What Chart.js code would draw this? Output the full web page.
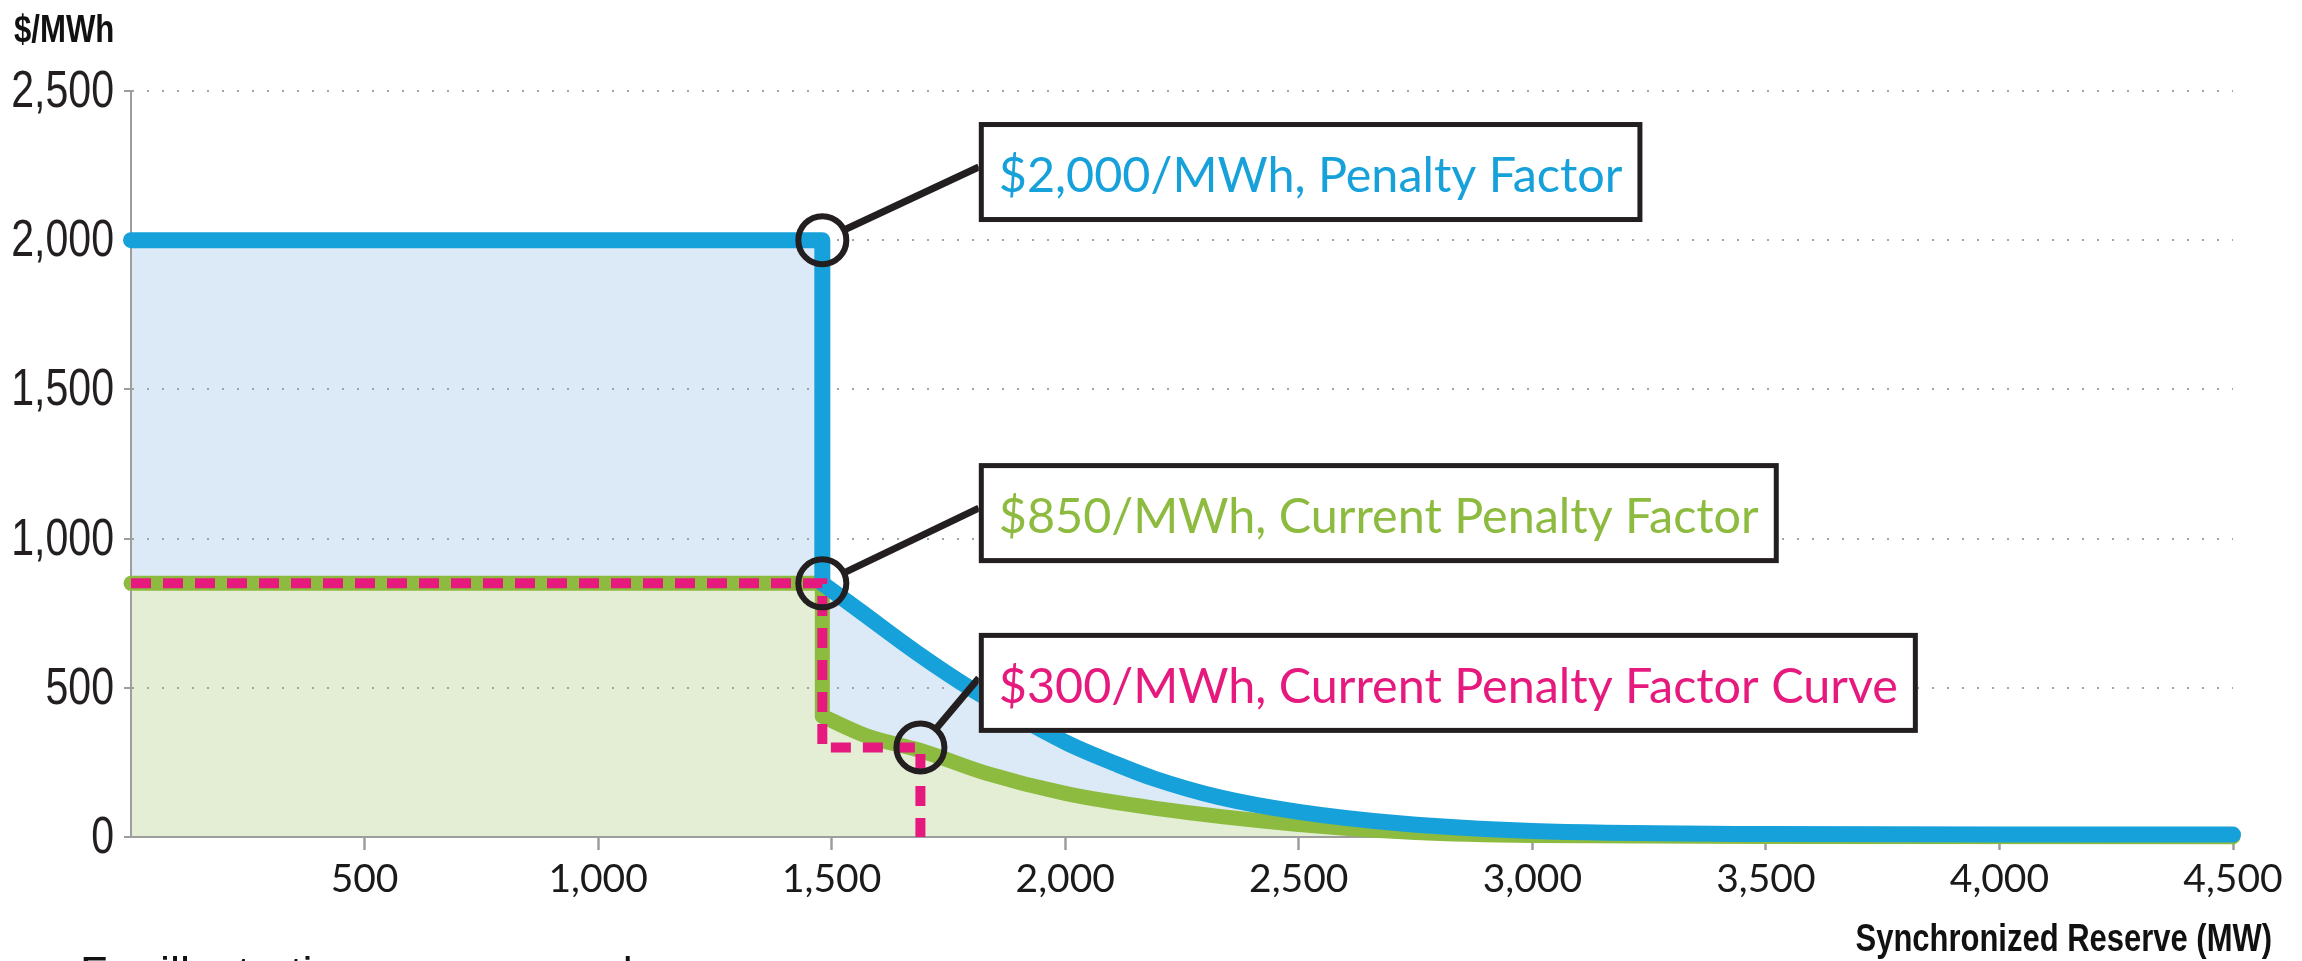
<!DOCTYPE html>
<html>
<head>
<meta charset="utf-8">
<title>Synchronized Reserve Penalty Factor</title>
<script src="https://cdn.jsdelivr.net/npm/chart.js@4.4.1/dist/chart.umd.min.js"></script>
<style>
  html, body { margin: 0; padding: 0; background: #fff; overflow: hidden; }
  #wrap { position: relative; width: 2302px; height: 961px; }
</style>
</head>
<body>
<div id="wrap"><canvas id="reserveChart" width="2302" height="961"></canvas></div>
<script>
// axis ticks
const xTickValues = [500, 1000, 1500, 2000, 2500, 3000, 3500, 4000, 4500];
const xTickLabels = ['500', '1,000', '1,500', '2,000', '2,500', '3,000', '3,500', '4,000', '4,500'];
const yTickValues = [0, 500, 1000, 1500, 2000, 2500];
const yTickLabels = ['0', '500', '1,000', '1,500', '2,000', '2,500'];

// $2,000/MWh penalty factor (blue)
const blueStepX = [0, 1480, 1480];
const blueStepY = [2000, 2000, 850];
const blueCurveX = [1480, 1560, 1680, 1800, 2000, 2110, 2190, 2330, 2500, 2720, 3000, 3500, 4000, 4500];
const blueCurveY = [850, 758, 620, 495, 318, 244, 196, 133, 84, 45, 20, 10, 8, 8];

// $850/MWh current penalty factor (green)
const greenStepX = [0, 1480, 1480];
const greenStepY = [850, 850, 405];
const greenCurveX = [1480, 1576, 1690, 1830, 2000, 2190, 2500, 2750, 3000, 3500, 4500];
const greenCurveY = [405, 338, 290, 214, 146, 97, 42, 15, 5, 2, 1];

// $300/MWh current penalty factor curve (pink, dashed)
const pinkX = [0, 1480, 1480, 1690, 1690];
const pinkY = [850, 850, 300, 300, 0];

// callouts
const calloutLabels = ['$2,000/MWh, Penalty Factor', '$850/MWh, Current Penalty Factor', '$300/MWh, Current Penalty Factor Curve'];
const calloutX = [1480, 1480, 1690];
const calloutY = [2000, 850, 300];

const BLUE = '#17a1da', GREEN = '#8dbb3f', PINK = '#e6197e', INK = '#231f20', AXIS = '#9d9d9d';
const SANS = "'Liberation Sans', Arial, sans-serif";

const pts = (xs, ys) => xs.map((v, i) => ({ x: v, y: ys[i] }));

function lineSet(xs, ys, color, width, curved) {
    return {
        data: pts(xs, ys),
        borderColor: color,
        borderWidth: width,
        borderCapStyle: 'round',
        borderJoinStyle: 'round',
        cubicInterpolationMode: curved ? 'monotone' : 'default',
        tension: 0,
        fill: false,
        pointRadius: 0,
        clip: false
    };
}

function fillSet(xs, ys, color, curved) {
    return {
        data: pts(xs, ys),
        borderColor: 'rgba(0,0,0,0)',
        borderWidth: 0,
        backgroundColor: color,
        cubicInterpolationMode: curved ? 'monotone' : 'default',
        tension: 0,
        fill: 'origin',
        pointRadius: 0
    };
}

// the step fill runs one point into the curve so the two areas overlap (no seam)
const stepFill = (sx, sy, cx, cy, color) => fillSet(sx.concat(cx[1]), sy.concat(cy[1]), color, false);

const pinkSet = lineSet(pinkX, pinkY, PINK, 10, false);
pinkSet.borderDash = [20, 12];
pinkSet.borderCapStyle = 'butt';
pinkSet.borderJoinStyle = 'miter';

// first dataset is drawn on top
const datasets = [
    pinkSet,
    lineSet(blueStepX, blueStepY, BLUE, 16, false),
    lineSet(blueCurveX, blueCurveY, BLUE, 16, true),
    lineSet(greenStepX, greenStepY, GREEN, 15, false),
    lineSet(greenCurveX, greenCurveY, GREEN, 15, true),
    stepFill(greenStepX, greenStepY, greenCurveX, greenCurveY, '#e3eed5'),
    fillSet(greenCurveX, greenCurveY, '#e3eed5', true),
    stepFill(blueStepX, blueStepY, blueCurveX, blueCurveY, '#dce9f6'),
    fillSet(blueCurveX, blueCurveY, '#dce9f6', true)
];

// condensed text: the narrow face isn't installed, so squeeze a regular one
function narrowText(ctx, text, x, y, font, sx, align) {
    ctx.save();
    ctx.font = font;
    const w = ctx.measureText(text).width * sx;
    const left = align === 'right' ? x - w : x;
    ctx.translate(left, y);
    ctx.scale(sx, 1);
    ctx.textAlign = 'left';
    ctx.textBaseline = 'alphabetic';
    ctx.fillText(text, 0, 0);
    ctx.restore();
}

// grid and axis lines go back over the fills, under the lines
const regrid = {
    id: 'regrid',
    beforeDatasetsDraw(chart) {
        const { x, y } = chart.scales;
        y.drawGrid(chart.chartArea);
        x.drawGrid(chart.chartArea);
        x.drawBorder();
        y.drawBorder();
    }
};

const callouts = {
    id: 'callouts',
    afterDatasetsDraw(chart, args, opts) {
        const { ctx } = chart;
        const { x, y } = chart.scales;
        ctx.save();
        calloutLabels.forEach((text, i) => {
            const cx = x.getPixelForValue(calloutX[i]);
            const cy = y.getPixelForValue(calloutY[i]);
            const bx = x.getPixelForValue(opts.boxLeft);
            const by = y.getPixelForValue(opts.boxTop[i]);
            ctx.font = opts.font;
            const w = ctx.measureText(text).width + 2 * opts.padX;
            const h = opts.boxH;
            const ax = bx, ay = by + h * 0.45;
            const ang = Math.atan2(ay - cy, ax - cx);
            const r = opts.radius;

            ctx.strokeStyle = INK;
            ctx.lineCap = 'butt';
            ctx.lineWidth = 7;
            ctx.beginPath();
            ctx.moveTo(cx + Math.cos(ang) * r, cy + Math.sin(ang) * r);
            ctx.lineTo(ax, ay);
            ctx.stroke();

            ctx.lineWidth = 6;
            ctx.beginPath();
            ctx.arc(cx, cy, r, 0, Math.PI * 2);
            ctx.stroke();

            ctx.fillStyle = '#fff';
            ctx.fillRect(bx, by, w, h);
            ctx.lineWidth = 5;
            ctx.strokeRect(bx + 2.5, by + 2.5, w - 5, h - 5);

            ctx.fillStyle = opts.colors[i];
            ctx.textBaseline = 'alphabetic';
            ctx.textAlign = 'left';
            ctx.fillText(text, bx + opts.padX, by + opts.baseline);
        });
        ctx.restore();
    },
    afterDraw(chart) {
        const { ctx } = chart;
        const { y } = chart.scales;
        ctx.save();
        ctx.fillStyle = INK;
        // y tick labels
        yTickValues.forEach((v, i) => {
            narrowText(ctx, yTickLabels[i], chart.chartArea.left - 17, y.getPixelForValue(v) + 16, '52px ' + SANS, 0.79, 'right');
        });
        // axis titles
        ctx.fillStyle = '#111';
        narrowText(ctx, '$/MWh', 14, 42, 'bold 38px ' + SANS, 0.82, 'left');
        narrowText(ctx, 'Synchronized Reserve (MW)', 2272, 951, 'bold 38px ' + SANS, 0.815, 'right');
        ctx.font = '45px ' + SANS;
        ctx.textAlign = 'left';
        ctx.textBaseline = 'alphabetic';
        ctx.fillText('For illustration purposes only', 80, 988);
        ctx.restore();
    }
};

new Chart(document.getElementById('reserveChart'), {
    type: 'line',
    data: { datasets },
    options: {
        responsive: false,
        animation: false,
        events: [],
        layout: { padding: { top: 91, right: 69, left: 0, bottom: 0 } },
        plugins: {
            legend: { display: false },
            tooltip: { enabled: false },
            filler: { drawTime: 'beforeDatasetsDraw' },
            callouts: {
                boxLeft: 1815,
                boxTop: [2396, 1253, 684],
                boxH: 100,
                padX: 20,
                baseline: 70,
                radius: 24,
                font: "48.5px Lato, 'Open Sans', sans-serif",
                colors: [BLUE, GREEN, PINK]
            }
        },
        scales: {
            x: {
                type: 'linear',
                min: 0,
                max: 4500,
                afterFit(s) { s.height = 124; },
                afterBuildTicks(s) { s.ticks = xTickValues.map(v => ({ value: v })); },
                ticks: {
                    autoSkip: false,
                    maxRotation: 0,
                    padding: 6,
                    color: '#1a1a1a',
                    font: { family: 'Lato', size: 39 },
                    callback: (v, i) => xTickLabels[i]
                },
                grid: { drawOnChartArea: false, drawTicks: true, tickLength: 13, tickWidth: 2, tickColor: AXIS, color: AXIS },
                border: { display: true, color: AXIS, width: 2 }
            },
            y: {
                type: 'linear',
                min: 0,
                max: 2500,
                afterFit(s) { s.width = 131; },
                afterBuildTicks(s) { s.ticks = yTickValues.map(v => ({ value: v })); },
                ticks: { display: false },
                grid: { color: '#a3a3a3', lineWidth: 2, tickLength: 7, tickWidth: 2, tickColor: AXIS, tickBorderDash: [] },
                border: { display: true, color: AXIS, width: 2, dash: [2, 13] }
            }
        }
    },
    plugins: [regrid, callouts]
});
</script>
</body>
</html>
